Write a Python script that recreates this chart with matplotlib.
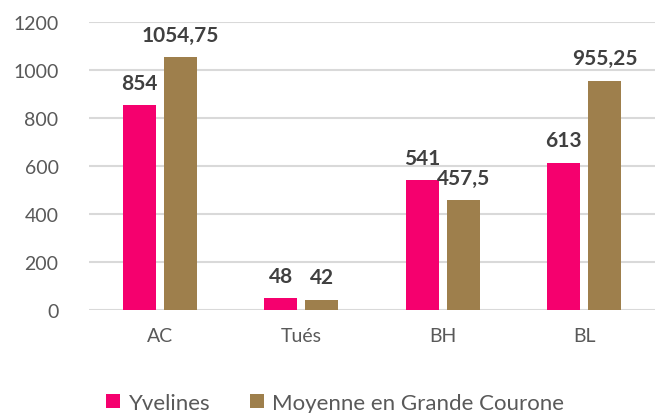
import numpy as np
import matplotlib
matplotlib.use('Agg')
import matplotlib.pyplot as plt

categories = ['AC', 'Tués', 'BH', 'BL']
yvelines = [854, 48, 541, 613]
moyenne = [1054.75, 42, 457.5, 955.25]
series_names = ['Yvelines', 'Moyenne en Grande Courone']
colors = ['#F5006E', '#9E7F4C']

plt.rcParams['font.family'] = ['Lato', 'DejaVu Sans']

fig = plt.figure(figsize=(6.55, 4.14), dpi=100)
ax = fig.add_axes([0.136, 0.249, 0.864, 0.695])

x = np.arange(len(categories))
w = 0.233
off = 0.145

bars1 = ax.bar(x - off, yvelines, w, color=colors[0], label=series_names[0], zorder=3)
bars2 = ax.bar(x + off, moyenne, w, color=colors[1], label=series_names[1], zorder=3)

def fmt(v):
    s = ('%g' % v).replace('.', ',')
    return s

for bars, vals in [(bars1, yvelines), (bars2, moyenne)]:
    for b, v in zip(bars, vals):
        ax.annotate(fmt(v), (b.get_x() + b.get_width() / 2, v),
                    xytext=(0, 9), textcoords='offset points',
                    ha='center', va='bottom', fontsize=15, fontweight='bold',
                    color='#404040')

ax.set_ylim(0, 1200)
ax.set_xlim(-0.5, len(categories) - 0.5)
ax.set_yticks(range(0, 1201, 200))
ax.set_xticks(x)
ax.set_xticklabels(categories)
ax.tick_params(axis='both', length=0, labelsize=14, colors='#595959')
ax.tick_params(axis='x', pad=12)
ax.tick_params(axis='y', pad=22)
ax.grid(axis='y', color='#D9D9D9', linewidth=1.5, zorder=0)
for s in ax.spines.values():
    s.set_visible(False)

fig.legend(handles=[bars1, bars2], labels=series_names, loc='center',
           bbox_to_anchor=(0.512, 0.025), ncol=2, frameon=False,
           fontsize=16, labelcolor='#595959', handlelength=0.6,
           handleheight=0.6, handletextpad=0.4, columnspacing=1.8)

fig.savefig('out.png', dpi=100)
